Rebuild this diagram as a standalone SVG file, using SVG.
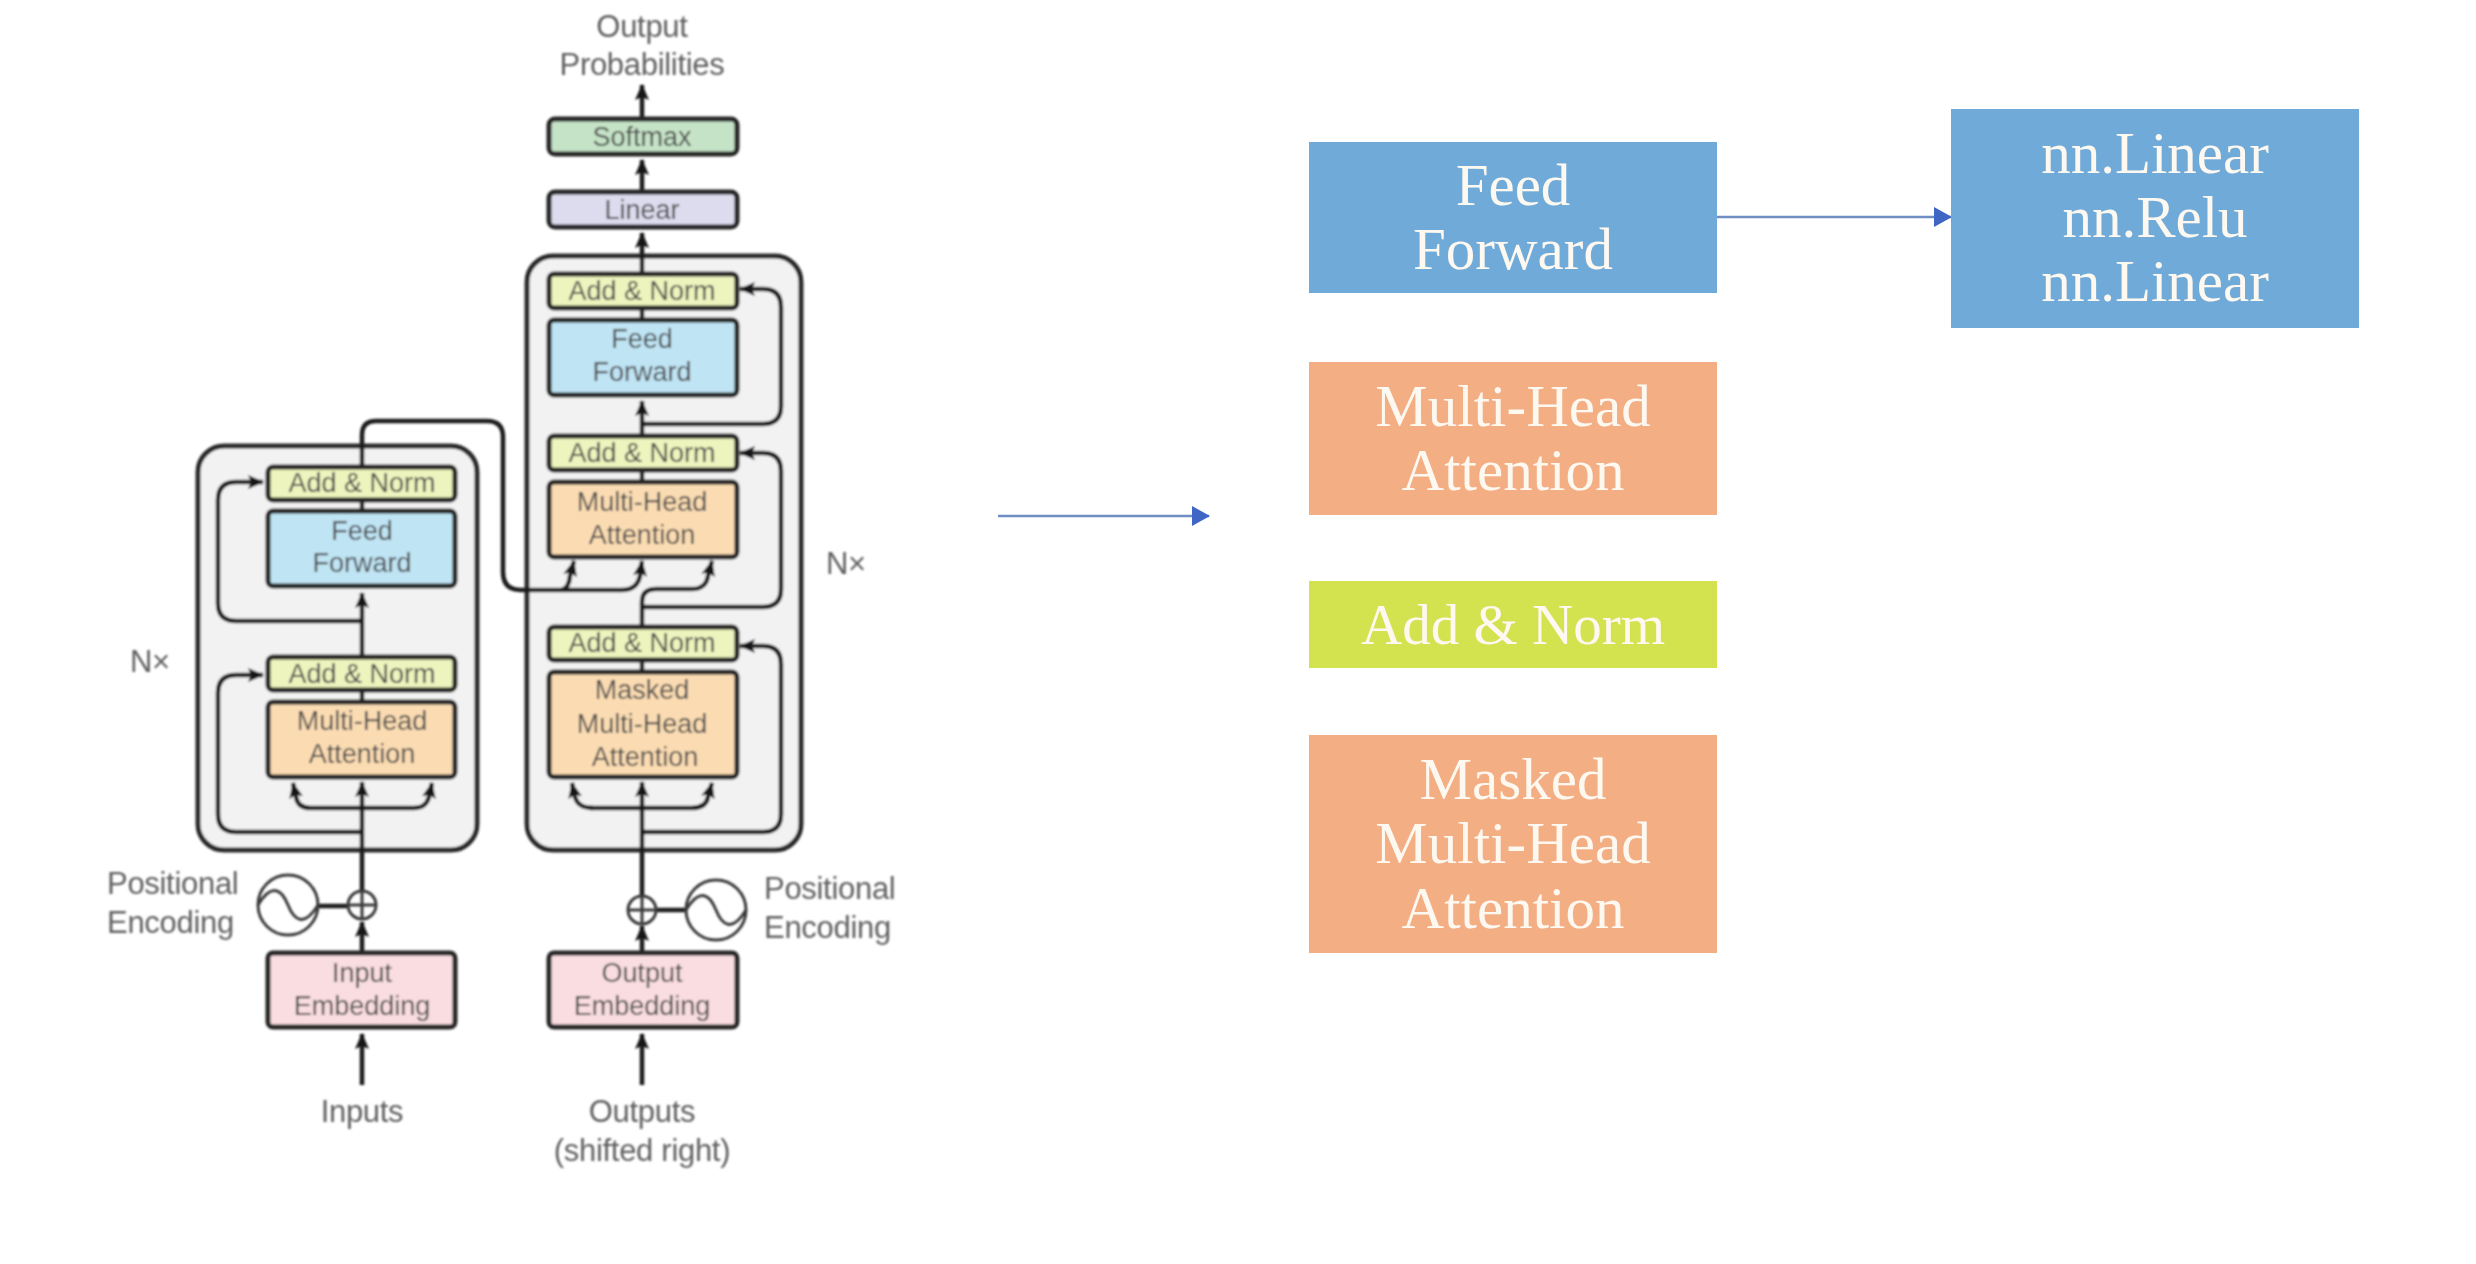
<svg xmlns="http://www.w3.org/2000/svg" width="2476" height="1264" viewBox="0 0 2476 1264">
<defs>
<filter id="soft" x="-2%" y="-2%" width="104%" height="104%"><feGaussianBlur stdDeviation="0.8"/></filter>
<marker id="head" markerUnits="userSpaceOnUse" viewBox="0 0 16 14" markerWidth="16" markerHeight="14" refX="15" refY="7" orient="auto"><path d="M0 0 L16 7 L0 14 L3 7 Z" fill="#141414"/></marker>
<marker id="blue" markerUnits="userSpaceOnUse" viewBox="0 0 18 20" markerWidth="18" markerHeight="20" refX="17" refY="10" orient="auto"><path d="M0 0 L18 10 L0 20 Z" fill="#3f66c4"/></marker>
</defs>
<style>
.box{stroke:#262626;stroke-width:5}
.stack{fill:#f2f2f2;stroke:#2c2c2c;stroke-width:5}
.yellow{fill:#eef4bd}.bluefill{fill:#bfe4f4}.peach{fill:#fbdcb2}.pink{fill:#f9dde0}.green{fill:#c5e3c6}.lav{fill:#dcdcee}
text{font-family:"Liberation Sans",Arial,sans-serif;font-size:27px;fill:#4e4e4e;text-anchor:middle}
.lab{font-size:31px;fill:#606060;letter-spacing:-0.3px}
.start{text-anchor:start}
.wire{fill:none;stroke:#1c1c1c;stroke-width:4.5}
.wirea{fill:none;stroke:#1c1c1c;stroke-width:4.5;marker-end:url(#head)}
.thin{fill:none;stroke:#3a3a3a;stroke-width:3}
.link{fill:none;stroke:#6f8fc4;stroke-width:2.5;marker-end:url(#blue)}
.big{font-family:"Liberation Serif","Times New Roman",serif;font-size:59px;fill:#fdf8f0}
.tight{font-size:57px}
.fb{fill:#6faad8}.fo{fill:#f4ae84}.fg{fill:#d3e24f}
</style>
<rect width="2476" height="1264" fill="#fff"/>
<g filter="url(#soft)">
<g id="encoder-stack"><rect class="stack" x="198" y="446" width="279" height="404" rx="26"/></g>
<g id="decoder-stack"><rect class="stack" x="527" y="256" width="274" height="594" rx="26"/></g>
<g id="connectors">
<path class="wirea" d="M642 118V85"/>
<path class="wirea" d="M642 191V160"/>
<path class="wirea" d="M642 273V233"/>
<path class="wire" d="M642 308V320"/>
<path class="wirea" d="M642 435V401"/>
<path class="wirea" d="M642 424H763Q781 424 781 406V307Q781 289 763 289H740"/>
<path class="wire" d="M642 470V482"/>
<path class="wirea" d="M642 607H763Q781 607 781 589V471Q781 453 763 453H740"/>
<path class="wirea" d="M642 626V602Q642 589 656 589H692Q706 589 708 576L712 561"/>
<path class="wirea" d="M362 466V435Q362 421 376 421H487Q503 421 503 437V572Q503 590 521 590H622Q637 590 640 576L642 561"/>
<path class="wirea" d="M562 590Q569 588 570 576L574 561"/>
<path class="wire" d="M642 660V672"/>
<path class="wirea" d="M642 896V782"/>
<path class="wirea" d="M593 808Q578 808 575 797L572 783"/>
<path class="wirea" d="M590 808H692Q706 808 708 797L712 783"/>
<path class="wirea" d="M642 832H763Q781 832 781 814V664Q781 646 763 646H740"/>
<path class="wirea" d="M642 954V926"/>
<path class="wirea" d="M642 1085V1034"/>
<path class="wire" d="M656 910H686"/>
<path class="wire" d="M362 500V511"/>
<path class="wirea" d="M362 656V593"/>
<path class="wirea" d="M362 621H236Q218 621 218 603V500Q218 482 236 482H263"/>
<path class="wire" d="M362 691V703"/>
<path class="wirea" d="M362 892V782"/>
<path class="wirea" d="M310 808Q298 808 296 797L293 783"/>
<path class="wirea" d="M310 808H414Q426 808 429 797L432 783"/>
<path class="wirea" d="M362 832H236Q218 832 218 814V693Q218 675 236 675H263"/>
<path class="wirea" d="M362 954V922"/>
<path class="wirea" d="M362 1085V1034"/>
<path class="wire" d="M317 906H348"/>
</g>
<g id="output-label"><text class="lab" x="642" y="37">Output</text><text class="lab" x="642" y="75">Probabilities</text></g>
<g id="softmax"><rect class="box green" x="549" y="119" width="188" height="35" rx="6"/><text x="642" y="146">Softmax</text></g>
<g id="linear"><rect class="box lav" x="549" y="192" width="188" height="35" rx="6"/><text x="642" y="219">Linear</text></g>
<g id="dec-norm-3"><rect class="box yellow" x="549" y="274" width="188" height="34" rx="5"/><text x="642" y="300">Add &amp; Norm</text></g>
<g id="dec-feed"><rect class="box bluefill" x="549" y="320" width="188" height="75" rx="5"/><text x="642" y="348">Feed</text><text x="642" y="381">Forward</text></g>
<g id="dec-norm-2"><rect class="box yellow" x="549" y="436" width="188" height="34" rx="5"/><text x="642" y="462">Add &amp; Norm</text></g>
<g id="dec-attention"><rect class="box peach" x="549" y="482" width="188" height="75" rx="5"/><text x="642" y="511">Multi-Head</text><text x="642" y="544">Attention</text></g>
<g id="dec-norm-1"><rect class="box yellow" x="549" y="627" width="188" height="33" rx="5"/><text x="642" y="652">Add &amp; Norm</text></g>
<g id="dec-masked"><rect class="box peach" x="549" y="672" width="188" height="105" rx="5"/><text x="642" y="699">Masked</text><text x="642" y="733">Multi-Head</text><text x="645" y="766">Attention</text></g>
<g id="enc-norm-2"><rect class="box yellow" x="268" y="467" width="187" height="33" rx="5"/><text x="362" y="492">Add &amp; Norm</text></g>
<g id="enc-feed"><rect class="box bluefill" x="268" y="511" width="187" height="75" rx="5"/><text x="362" y="540">Feed</text><text x="362" y="572">Forward</text></g>
<g id="enc-norm-1"><rect class="box yellow" x="268" y="657" width="187" height="33" rx="5"/><text x="362" y="683">Add &amp; Norm</text></g>
<g id="enc-attention"><rect class="box peach" x="268" y="702" width="187" height="75" rx="5"/><text x="362" y="730">Multi-Head</text><text x="362" y="763">Attention</text></g>
<g id="nx-left"><text class="lab start" x="130" y="672">N×</text></g>
<g id="nx-right"><text class="lab start" x="826" y="574">N×</text></g>
<g id="enc-add"><circle class="thin" cx="362" cy="905" r="14"/><path class="thin" d="M348 905H376M362 891V919"/></g>
<g id="enc-sine"><circle class="thin" cx="288" cy="905" r="30"/><path class="thin" d="M258 905C272 882 282 890 288 905C294 920 304 928 318 905"/></g>
<g id="dec-add"><circle class="thin" cx="642" cy="910" r="14"/><path class="thin" d="M628 910H656M642 896V924"/></g>
<g id="dec-sine"><circle class="thin" cx="716" cy="910" r="30"/><path class="thin" d="M686 910C700 887 710 895 716 910C722 925 732 933 746 910"/></g>
<g id="enc-pe-label"><text class="lab start" x="107" y="894">Positional</text><text class="lab start" x="107" y="933">Encoding</text></g>
<g id="dec-pe-label"><text class="lab start" x="764" y="899">Positional</text><text class="lab start" x="764" y="938">Encoding</text></g>
<g id="input-embedding"><rect class="box pink" x="268" y="953" width="187" height="74" rx="5"/><text x="362" y="982">Input</text><text x="362" y="1015">Embedding</text></g>
<g id="output-embedding"><rect class="box pink" x="549" y="953" width="188" height="74" rx="5"/><text x="642" y="982">Output</text><text x="642" y="1015">Embedding</text></g>
<g id="inputs-label"><text class="lab" x="362" y="1122">Inputs</text></g>
<g id="outputs-label"><text class="lab" x="642" y="1122">Outputs</text><text class="lab" x="642" y="1161">(shifted right)</text></g>
</g>
<g id="panel-connectors">
<path class="link" d="M998 516H1209"/>
<path class="link" d="M1717 217H1951"/>
</g>
<g id="panel-feed"><rect class="fb" x="1309" y="142" width="408" height="151"/><text class="big" x="1513" y="205">Feed</text><text class="big" x="1513" y="269">Forward</text></g>
<g id="panel-modules"><rect class="fb" x="1951" y="109" width="408" height="219"/><text class="big" x="2155" y="173">nn.Linear</text><text class="big" x="2155" y="237">nn.Relu</text><text class="big" x="2155" y="301">nn.Linear</text></g>
<g id="panel-attention"><rect class="fo" x="1309" y="362" width="408" height="153"/><text class="big" x="1513" y="426">Multi-Head</text><text class="big" x="1513" y="490">Attention</text></g>
<g id="panel-norm"><rect class="fg" x="1309" y="581" width="408" height="87"/><text class="big tight" x="1513" y="644">Add &amp; Norm</text></g>
<g id="panel-masked"><rect class="fo" x="1309" y="735" width="408" height="218"/><text class="big" x="1513" y="799">Masked</text><text class="big" x="1513" y="863">Multi-Head</text><text class="big" x="1513" y="928">Attention</text></g>
</svg>
